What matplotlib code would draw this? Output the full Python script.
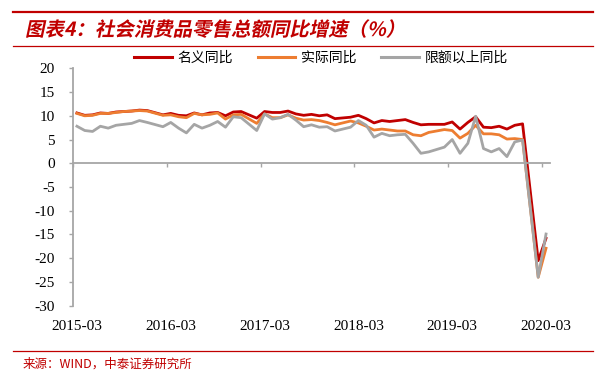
import numpy as np
import matplotlib
matplotlib.use("Agg")
import matplotlib.pyplot as plt
from matplotlib.patheffects import AbstractPathEffect
from matplotlib.transforms import Affine2D
from matplotlib.lines import Line2D

plt.rcParams['font.family'] = ['Noto Sans CJK SC', 'DejaVu Sans']
plt.rcParams['axes.unicode_minus'] = False

# 月度数据：2015-03 ~ 2020-03，1月无单独数据（None）
months = ['%d-%02d' % (2015 + (m + 2) // 12, (m + 2) % 12 + 1) for m in range(61)]
tick_labels = ['2015-03', '2016-03', '2017-03', '2018-03', '2019-03', '2020-03']

nominal = [10.6, 10.1, 10.2, 10.6, 10.5, 10.8, 10.9, 11.0, 11.2, 11.1,
           None, 10.2, 10.5, 10.1, 10.0, 10.6, 10.2, 10.6, 10.7, 10.0, 10.8, 10.9,
           None, 9.5, 10.9, 10.7, 10.7, 11.0, 10.4, 10.1, 10.3, 10.0, 10.2, 9.4,
           None, 9.7, 10.1, 9.4, 8.5, 9.0, 8.8, 9.0, 9.2, 8.6, 8.1, 8.2,
           None, 8.2, 8.7, 7.2, 8.6, 9.8, 7.6, 7.5, 7.8, 7.2, 8.0, 8.3,
           None, -20.5, -15.8]
real = [10.5, 10.0, 10.1, 10.5, 10.5, 10.7, 10.9, 11.0, 11.1, 11.0,
        None, 10.1, 10.2, 9.8, 9.6, 10.5, 10.2, 10.3, 10.6, 9.3, 10.2, 10.3,
        None, 8.4, 10.4, 9.6, 9.6, 10.2, 9.5, 9.1, 9.2, 9.0, 8.6, 8.1,
        None, 8.9, 8.5, 7.8, 7.0, 7.2, 7.0, 6.8, 6.8, 6.0, 5.8, 6.5,
        None, 7.1, 6.9, 5.3, 6.3, 8.0, 6.2, 6.2, 6.0, 5.1, 5.2, 5.0,
        None, -24.0, -17.9]
above_limit = [7.8, 6.9, 6.7, 7.8, 7.4, 8.0, 8.2, 8.4, 9.0, 8.6,
               None, 7.7, 8.6, 7.4, 6.4, 8.2, 7.4, 8.0, 8.8, 7.6, 9.8, 9.6,
               None, 6.9, 10.4, 9.3, 9.6, 10.3, 9.1, 7.7, 8.1, 7.6, 7.7, 6.8,
               None, 7.6, 9.0, 8.0, 5.5, 6.3, 5.8, 6.0, 6.1, 4.2, 2.1, 2.4,
               None, 3.4, 5.0, 2.1, 4.2, 9.9, 3.1, 2.4, 3.1, 1.4, 4.5, 4.9,
               None, -24.0, -14.9]

series = [('名义同比', nominal, '#C00000'),
          ('实际同比', real, '#ED7D31'),
          ('限额以上同比', above_limit, '#A5A5A5')]


class Slant(AbstractPathEffect):
    # 模拟斜体
    def draw_path(self, renderer, gc, tpath, affine, rgbFace=None):
        y0 = affine.get_matrix()[1, 2]
        skew = Affine2D().translate(0, -y0).skew_deg(12, 0).translate(0, y0)
        renderer.draw_path(gc, tpath, affine + skew, rgbFace)


fig = plt.figure(figsize=(6.03, 3.81), dpi=100)
ax = fig.add_axes([0.1211, 0.1976, 0.912 - 0.1211, 0.8207 - 0.1976])

x = np.arange(len(months))
handles = []
for name, vals, color in series:
    y = np.array([np.nan if v is None else v for v in vals])
    ok = ~np.isnan(y)
    ax.plot(x[ok], y[ok], color=color, lw=2.0, solid_joinstyle='round')
    handles.append(Line2D([], [], color=color, lw=2.2))

ax.set_xlim(-0.5, len(months) - 0.5)
ax.set_ylim(-30, 20)
ax.set_yticks(range(-30, 21, 5))

axis_gray = '#A6A6A6'
for s in ['top', 'right']:
    ax.spines[s].set_visible(False)
ax.spines['bottom'].set_position(('data', 0))
ax.spines['bottom'].set_color(axis_gray)
ax.spines['left'].set_color(axis_gray)
ax.spines['bottom'].set_linewidth(1.3)
ax.spines['left'].set_linewidth(1.3)

ax.set_xticks(np.arange(-0.5, len(months), 12))
ax.tick_params(axis='x', direction='out', length=3, width=1, color=axis_gray, labelbottom=False)
ax.tick_params(axis='y', direction='out', length=3, width=1, color=axis_gray, pad=10)
for lab in ax.get_yticklabels():
    lab.set_family('Liberation Serif')
    lab.set_fontsize(11)

for lab in tick_labels:
    ax.text(months.index(lab), -0.0855, lab, transform=ax.get_xaxis_transform(),
            ha='center', va='center', fontsize=11, family='Liberation Serif')

fig.legend(handles, [s[0] for s in series], loc='center', bbox_to_anchor=(0.532, 0.848),
           ncol=3, frameon=False, fontsize=10, handlelength=2.7, handletextpad=0.4,
           columnspacing=1.8)

# 标题与来源
red = '#C00000'
fig.add_artist(Line2D([13 / 603, 593 / 603], [1 - 11.6 / 381] * 2, color=red, lw=1.6))
fig.add_artist(Line2D([13 / 603, 593 / 603], [1 - 46.3 / 381] * 2, color=red, lw=0.9))
fig.add_artist(Line2D([13 / 603, 593 / 603], [1 - 350.7 / 381] * 2, color=red, lw=0.9))
fig.text(25 / 603, 1 - 30 / 381, '图表4：社会消费品零售总额同比增速（%）', color=red,
         fontsize=14, fontweight='bold', va='center', ha='left', path_effects=[Slant()])
fig.text(23 / 603, 1 - 364 / 381, '来源：WIND，中泰证券研究所', color=red,
         fontsize=9, va='center', ha='left')

fig.savefig('out.png', dpi=100)
